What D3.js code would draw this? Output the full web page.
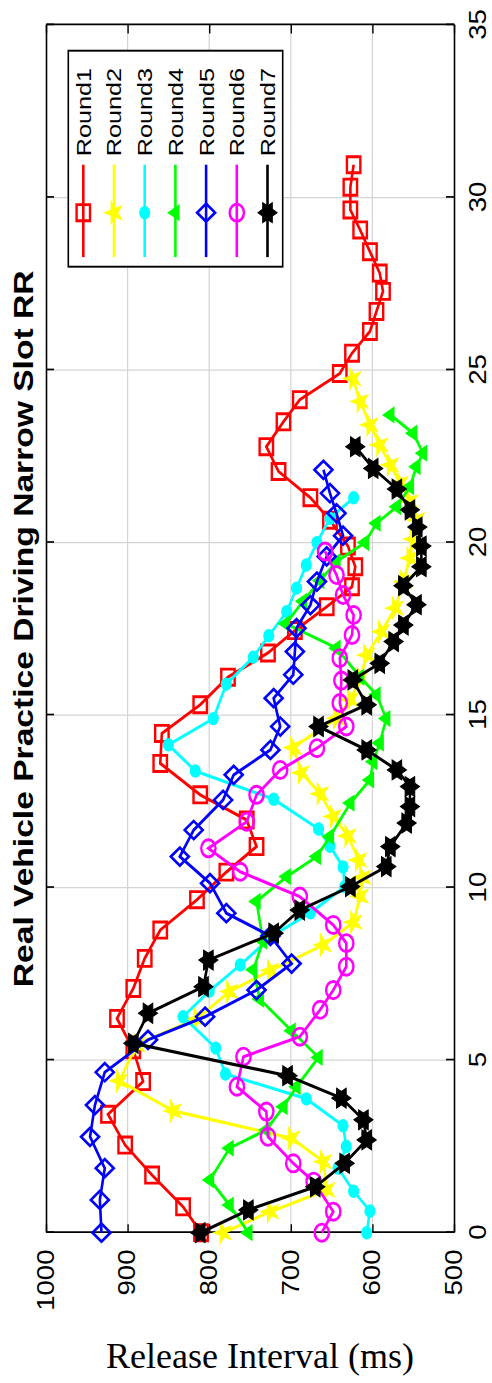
<!DOCTYPE html>
<html lang="en">
<head>
<meta charset="utf-8">
<title>Real Vehicle Practice Driving Narrow Slot RR</title>
<script src="https://cdn.jsdelivr.net/npm/d3@7"></script>
<style>
html,body{margin:0;padding:0;background:#fff}
#svgWrap{width:492px;height:1383px}
</style>
</head>
<body>
<div id="svgWrap"></div>
<script>
// release time (s) and release interval (ms) for each round
var round1Time=[0,0.75,1.67,2.54,3.43,4.38,5.3,6.21,7.08,7.95,8.77,9.65,10.45,11.19,11.96,12.69,13.6,14.47,15.3,16.1,16.8,17.45,18.14,18.72,19.3,19.9,20.65,21.3,22.06,22.78,23.5,24.14,24.9,25.49,26.12,26.7,27.28,27.81,28.43,29.06,29.64,30.3,30.95];
var round1Val=[810,832,870,903,924,881,893,913,893,879,860,815,779,742,754,811,860,858,811,777,728,695,656,625,621,630,652,676,715,730,709,689,640,625,603,595,587,591,603,615,627,627,623];
var round2Time=[0,0.61,1.24,2.06,2.74,3.53,4.4,5.45,6.2,6.99,7.6,8.34,9.0,9.75,10.3,10.8,11.5,12.06,12.72,13.33,14.06,14.91,15.45,16.07,16.74,17.42,18.1,18.87,19.55,20.1,20.66,21.19,21.72,22.25,22.83,23.41,24.09,24.75];
var round2Val=[783,725,656,660,699,844,910,889,815,775,725,660,623,615,612,617,630,648,664,687,697,644,627,615,607,589,572,562,554,550,546,554,566,578,591,603,615,624];
var round3Time=[0,0.63,1.2,1.87,2.5,3.1,3.88,4.6,5.35,6.26,7.0,7.76,8.63,9.27,10.03,10.6,11.2,11.7,12.56,13.38,14.14,14.9,15.9,16.68,17.3,18.0,18.68,19.35,20.0,20.7,21.3];
var round3Val=[607,603,623,642,632,636,681,780,792,832,800,762,721,676,634,636,652,666,721,817,850,795,779,746,727,705,693,681,668,652,623];
var round4Time=[0,0.8,1.53,2.45,2.98,3.65,4.23,5.08,5.85,6.77,7.62,8.45,9.6,10.32,10.9,11.48,12.45,13.12,13.65,14.19,14.9,15.59,16.1,16.94,17.65,18.3,18.9,19.45,20.0,20.56,21.04,21.62,22.2,22.59,23.17,23.7];
var round4Val=[752,775,799,775,730,709,693,666,699,738,746,734,742,705,668,652,627,603,599,591,583,595,615,644,706,685,664,644,609,595,570,554,546,538,550,578];
var round5Time=[0,0.95,1.87,2.78,3.7,4.65,5.59,6.26,7.03,7.8,8.6,9.26,10.13,10.9,11.67,12.54,13.27,13.99,14.67,15.49,16.17,16.84,17.52,18.19,18.87,19.6,20.2,20.85,21.43,22.11];
var round5Val=[932,934,928,946,940,928,875,805,742,699,725,779,799,836,819,783,770,725,713,721,697,695,693,676,668,656,636,644,652,660];
var round6Time=[0,0.61,1.48,2.01,2.78,3.51,4.23,5.1,5.68,6.46,7.03,7.71,8.39,8.92,9.74,10.46,11.14,11.91,12.69,13.41,14.04,14.67,15.35,16.0,16.65,17.32,17.9,18.48,19.06,19.74];
var round6Val=[662,648,672,697,728,730,766,758,689,664,648,632,632,648,689,762,801,754,742,713,668,632,640,638,640,625,623,636,644,658];
var round7Time=[0,0.66,1.33,2.01,2.69,3.27,3.9,4.55,5.49,6.36,7.13,7.9,8.68,9.35,10.03,10.61,11.19,11.87,12.35,12.93,13.41,13.99,14.67,15.3,16.02,16.5,17.13,17.61,18.2,18.75,19.3,19.9,20.45,20.95,21.55,22.15,22.78];
var round7Val=[811,752,670,634,607,611,638,704,893,875,807,801,721,689,627,583,578,558,554,554,570,607,666,607,624,591,574,562,546,562,540,540,545,554,570,599,621];

var roundNames=["Round1","Round2","Round3","Round4","Round5","Round6","Round7"];
var roundColors=["#ff0000","#ffff00","#00ffff","#00ff00","#0000ff","#ff00ff","#000000"];
var roundMarkers=["square","star","dot","triangle","diamond","circle","hexagram"];
var xTicks=[0,5,10,15,20,25,30,35];
var yTicks=[500,600,700,800,900,1000];
var chartTitle="Real Vehicle Practice Driving Narrow Slot RR";
var yLabel="Release Interval (ms)";

var timeLists=[round1Time,round2Time,round3Time,round4Time,round5Time,round6Time,round7Time];
var valLists=[round1Val,round2Val,round3Val,round4Val,round5Val,round6Val,round7Val];

// the figure is rotated a quarter turn and a bit stretched along its time axis
var stretch=1.2;
var figLeft=46, figBottom=1232.7;
var height=408;
var width=1207.7/stretch;

var xScale=d3.scaleLinear().domain([0,35]).range([0,width]);
var yScale=d3.scaleLinear().domain([500,1000]).range([height,0]);

var svg=d3.select("#svgWrap").append("svg")
    .attr("width",492).attr("height",1383)
    .style("background","#fff");

var fig=svg.append("g")
    .attr("transform","translate("+figLeft+","+figBottom+") rotate(-90) scale("+stretch+",1)");

// grid
fig.append("g").selectAll("line").data(xTicks.slice(1,-1)).enter().append("line")
    .attr("x1",function(d){return xScale(d)}).attr("x2",function(d){return xScale(d)})
    .attr("y1",0).attr("y2",height)
    .attr("stroke","#d4d4d4").attr("stroke-width",1);
fig.append("g").selectAll("line").data(yTicks.slice(1,-1)).enter().append("line")
    .attr("y1",function(d){return yScale(d)}).attr("y2",function(d){return yScale(d)})
    .attr("x1",0).attr("x2",width)
    .attr("stroke","#d4d4d4").attr("stroke-width",1.2);

// axes with inward ticks on all four sides
function styleAxis(g){
    g.select(".domain").attr("stroke","#000").attr("stroke-width",1.6);
    g.selectAll(".tick line").attr("stroke","#000").attr("stroke-width",1.4);
    g.selectAll(".tick text").attr("fill","#000")
        .attr("font-family","'Liberation Sans',Arial,sans-serif").attr("font-size",23);
}
fig.append("g").attr("transform","translate(0,"+height+")")
    .call(d3.axisBottom(xScale).tickValues(xTicks).tickSizeInner(-8).tickSizeOuter(0).tickPadding(16).tickFormat(d3.format("d")))
    .call(styleAxis);
fig.append("g")
    .call(d3.axisTop(xScale).tickValues(xTicks).tickSizeInner(-8).tickSizeOuter(0).tickFormat(""))
    .call(styleAxis);
fig.append("g")
    .call(d3.axisLeft(yScale).tickValues(yTicks).tickSizeInner(-7).tickSizeOuter(0).tickPadding(14).tickFormat(d3.format("d")))
    .call(styleAxis);
fig.append("g").attr("transform","translate("+width+",0)")
    .call(d3.axisRight(yScale).tickValues(yTicks).tickSizeInner(-7).tickSizeOuter(0).tickFormat(""))
    .call(styleAxis);

// title
fig.append("text")
    .attr("x",width/2).attr("y",-13)
    .attr("text-anchor","middle")
    .attr("font-family","'Liberation Sans',Arial,sans-serif")
    .attr("font-weight","bold").attr("font-size",28)
    .text(chartTitle);

function hexagram(R,r){
    var p=[];
    for(var i=0;i<12;i++){
        var a=Math.PI/6*i-Math.PI/2;
        var rad=(i%2==0)?R:r;
        p.push([rad*Math.cos(a),rad*Math.sin(a)]);
    }
    return "M"+p.map(function(q){return q[0].toFixed(2)+","+q[1].toFixed(2)}).join("L")+"Z";
}
function markerPath(kind){
    if(kind=="square") return d3.symbol(d3.symbolSquare,180)();
    if(kind=="star") return d3.symbol(d3.symbolStar,100)();
    if(kind=="dot") return d3.symbol(d3.symbolCircle,60)();
    if(kind=="triangle") return d3.symbol(d3.symbolTriangle,45)();
    if(kind=="diamond") return "M-7.5,0L0,-9L7.5,0L0,9Z";
    if(kind=="circle") return d3.symbol(d3.symbolCircle,160)();
    return hexagram(9.5,5.6);
}
function markerFilled(kind){
    return kind=="star"||kind=="dot"||kind=="triangle"||kind=="hexagram";
}
function drawMarker(g,kind,color,x,y){
    g.append("path")
        .attr("d",markerPath(kind))
        .attr("transform","translate("+x+","+y+")")
        .attr("fill",markerFilled(kind)?color:"none")
        .attr("stroke",color)
        .attr("stroke-width",kind=="hexagram"||kind=="star"?1:2.4);
}

var valuePath=d3.line()
    .x(function(d){return xScale(d[0])})
    .y(function(d){return yScale(d[1])});

var plot=fig.append("g");
roundNames.forEach(function(name,i){
    var pts=timeLists[i].map(function(t,j){return [t,valLists[i][j]]});
    var g=plot.append("g").attr("class","series");
    g.append("path").datum(pts)
        .attr("d",valuePath)
        .attr("fill","none")
        .attr("stroke",roundColors[i])
        .attr("stroke-width",2.6);
    pts.forEach(function(d){
        drawMarker(g,roundMarkers[i],roundColors[i],xScale(d[0]),yScale(d[1]));
    });
});

// legend
var legX0=805, legX1=985, legY0=22.3, legY1=236.7;
var leg=fig.append("g");
leg.append("rect")
    .attr("x",legX0).attr("y",legY0)
    .attr("width",legX1-legX0).attr("height",legY1-legY0)
    .attr("fill","#fff").attr("stroke","#000").attr("stroke-width",1.6);
roundNames.forEach(function(name,i){
    var cy=37.3+i*30.7;
    leg.append("line")
        .attr("x1",813).attr("x2",890).attr("y1",cy).attr("y2",cy)
        .attr("stroke",roundColors[i]).attr("stroke-width",2.6);
    drawMarker(leg,roundMarkers[i],roundColors[i],850,cy);
    leg.append("text")
        .attr("x",897).attr("y",cy+7.5)
        .attr("font-family","'Liberation Sans',Arial,sans-serif")
        .attr("font-size",21)
        .text(name);
});

// caption under the rotated figure
svg.append("text")
    .attr("x",260).attr("y",1368)
    .attr("text-anchor","middle")
    .attr("font-family","'Liberation Serif','Times New Roman',serif")
    .attr("font-size",36)
    .text(yLabel);
</script>
</body>
</html>
